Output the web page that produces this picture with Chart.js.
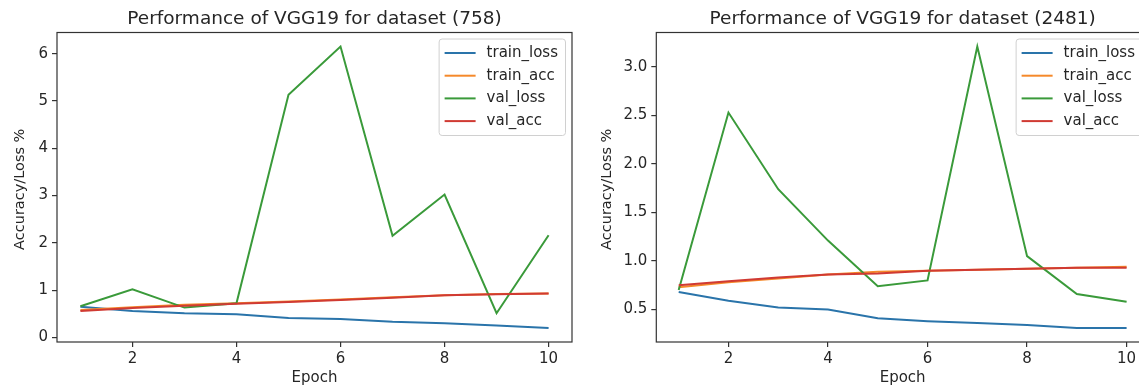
<!DOCTYPE html>
<html><head><meta charset="utf-8">
<script src="https://cdn.jsdelivr.net/npm/chart.js@4.4.1/dist/chart.umd.min.js"></script>
<style>
html,body{margin:0;padding:0;background:#fff;overflow:hidden;width:1139px;height:390px;}
#wrap{position:relative;width:1139px;height:390px;overflow:hidden;background:#fff;}
canvas{position:absolute;top:0;}
#c1{left:0;} #c2{left:590px;}
</style></head><body>
<div id="wrap"><canvas id="c1" width="590" height="390"></canvas><canvas id="c2" width="575" height="390"></canvas></div>
<script>
// ---- data ----
const epochs = [1,2,3,4,5,6,7,8,9,10];
const xTicks = [2,4,6,8,10];
const seriesNames = ['train_loss','train_acc','val_loss','val_acc'];

// dataset (758)
const trainLoss758 = [0.65,0.56,0.51,0.49,0.41,0.39,0.33,0.30,0.25,0.20];
const trainAcc758  = [0.58,0.64,0.69,0.72,0.76,0.80,0.85,0.89,0.92,0.93];
const valLoss758   = [0.66,1.015,0.63,0.72,5.13,6.15,2.15,3.02,0.51,2.16];
const valAcc758    = [0.56,0.62,0.67,0.71,0.75,0.79,0.84,0.89,0.91,0.93];
const yTicks758    = [0,1,2,3,4,5,6];

// dataset (2481)
const trainLoss2481 = [0.68,0.59,0.52,0.50,0.41,0.38,0.36,0.34,0.31,0.31];
const trainAcc2481  = [0.73,0.78,0.82,0.86,0.89,0.90,0.91,0.92,0.93,0.94];
const valLoss2481   = [0.70,2.53,1.74,1.21,0.74,0.80,3.21,1.05,0.66,0.58];
const valAcc2481    = [0.75,0.79,0.83,0.86,0.87,0.90,0.91,0.92,0.93,0.93];
const yTicks2481    = [0.5,1.0,1.5,2.0,2.5,3.0];

const titles = ['Performance of VGG19 for dataset (758)','Performance of VGG19 for dataset (2481)'];
const xLabel = 'Epoch';
const yLabel = 'Accuracy/Loss %';

// ---- style ----
const FONT = '"DejaVu Sans", sans-serif';
const TEXT = '#262626';
const AXIS = '#333333';
const COLORS = ['#2a74aa','#f5892a','#3a9a3a','#d03a33'];

function limits(arrs){
  const all = [].concat(...arrs);
  const mn = Math.min(...all), mx = Math.max(...all);
  const m = (mx-mn)*0.05;
  return [mn-m, mx+m];
}

const decor = {
  id:'decor',
  afterDraw(chart, args, o){
    const ctx = chart.ctx, a = chart.chartArea;
    ctx.save();
    // frame
    ctx.strokeStyle = AXIS; ctx.lineWidth = 1.2;
    ctx.strokeRect(a.left, a.top, a.right-a.left, a.bottom-a.top);
    ctx.fillStyle = TEXT;
    // title
    ctx.font = '18.5px ' + FONT;
    ctx.textAlign = 'center'; ctx.textBaseline = 'alphabetic';
    ctx.fillText(o.title, (a.left+a.right)/2, 24);
    // x label
    ctx.font = '15px ' + FONT;
    ctx.fillText(xLabel, (a.left+a.right)/2, 382);
    // y label
    ctx.save();
    ctx.translate(o.yLabelX, (a.top+a.bottom)/2 + 2);
    ctx.rotate(-Math.PI/2);
    ctx.textBaseline = 'middle';
    ctx.font = '14.5px ' + FONT;
    ctx.fillText(yLabel, 0, 0);
    ctx.restore();
    // legend
    ctx.font = '15px ' + FONT;
    let tw = 0;
    seriesNames.forEach(n => tw = Math.max(tw, ctx.measureText(n).width));
    const bw = 6 + 31 + 11 + tw + 7;
    const bx = a.right - 7 - bw, by = a.top + 6, bh = 96.5;
    ctx.beginPath();
    if (ctx.roundRect) ctx.roundRect(bx+0.5, by+0.5, bw, bh, 3); else ctx.rect(bx+0.5, by+0.5, bw, bh);
    ctx.fillStyle = 'rgba(255,255,255,0.8)';
    ctx.fill();
    ctx.strokeStyle = '#d0d0d0'; ctx.lineWidth = 1;
    ctx.stroke();
    seriesNames.forEach((n,i) => {
      const yy = a.top + 20.5 + i*22.7;
      ctx.strokeStyle = COLORS[i]; ctx.lineWidth = 2;
      ctx.beginPath(); ctx.moveTo(bx+6, yy); ctx.lineTo(bx+37, yy); ctx.stroke();
      ctx.fillStyle = TEXT; ctx.textAlign = 'left'; ctx.textBaseline = 'middle';
      ctx.fillText(n, bx+48, yy);
    });
    ctx.restore();
  }
};

function makeChart(id, series, yTicks, title, yAxisW, padRight, yLabelX, dec){
  const [ymin, ymax] = limits(series);
  const datasets = series.map((s,i) => ({
    label: seriesNames[i],
    data: epochs.map((e,j) => ({x:e, y:s[j]})),
    borderColor: COLORS[i],
    backgroundColor: COLORS[i],
    borderWidth: 2,
    pointRadius: 0,
    tension: 0,
    fill: false,
    order: 4 - i
  }));
  return new Chart(document.getElementById(id), {
    type: 'line',
    data: { datasets },
    plugins: [decor],
    options: {
      responsive: false, animation: false, devicePixelRatio: 1,
      layout: { padding: { left: 0, right: padRight, top: 32.5, bottom: 0 } },
      plugins: { legend: {display:false}, tooltip: {enabled:false}, title:{display:false},
                 decor: { title, yLabelX } },
      scales: {
        x: {
          type: 'linear', min: 0.55, max: 10.45,
          afterBuildTicks: s => { s.ticks = xTicks.map(v => ({value:v})); },
          afterFit: s => { s.height = 48; },
          grid: { display: true, drawOnChartArea: false, drawTicks: true, tickLength: 5, color: AXIS, tickColor: AXIS, lineWidth: 1.2 },
          border: { display: false },
          ticks: { color: TEXT, font: { family: FONT, size: 15 }, padding: 3, maxRotation: 0, autoSkip: false,
                   callback: v => String(v) }
        },
        y: {
          type: 'linear', min: ymin, max: ymax,
          afterBuildTicks: s => { s.ticks = yTicks.map(v => ({value:v})); },
          afterFit: s => { s.width = yAxisW; },
          grid: { display: true, drawOnChartArea: false, drawTicks: true, tickLength: 5, color: AXIS, tickColor: AXIS, lineWidth: 1.2 },
          border: { display: false },
          ticks: { color: TEXT, font: { family: FONT, size: 15 }, padding: 4, autoSkip: false,
                   callback: v => v.toFixed(dec) }
        }
      }
    }
  });
}

makeChart('c1', [trainLoss758, trainAcc758, valLoss758, valAcc758], yTicks758, titles[0], 57, 18, 20, 0);
makeChart('c2', [trainLoss2481, trainAcc2481, valLoss2481, valAcc2481], yTicks2481, titles[1], 66.3, 16, 17, 1);
</script>
</body></html>
